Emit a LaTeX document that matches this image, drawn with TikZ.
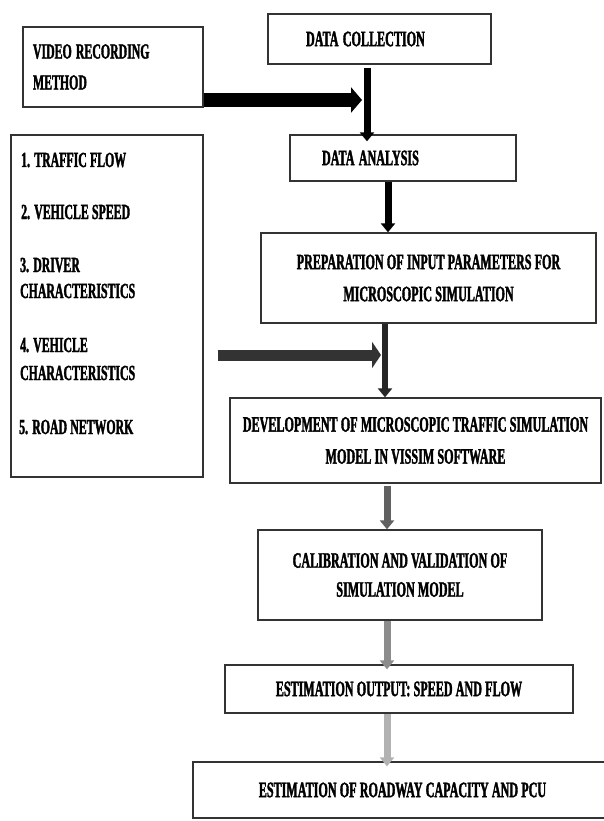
\documentclass[tikz,border=0pt]{standalone}
\usepackage{fontspec}
\setmainfont{Liberation Serif}[FakeStretch=0.55, BoldFeatures={FakeBold=1.6}]
\usetikzlibrary{arrows.meta}
\newcommand{\diagfont}[2]{\fontsize{#1}{#2}\selectfont\bfseries\spaceskip=3.2pt plus 1pt minus 1pt\relax}
\begin{document}
\begin{tikzpicture}[x=1pt,y=-1pt,
  box/.style={draw=black!80, line width=1.3pt, rectangle, inner sep=0pt,
    font=\diagfont{22}{32}, align=center},
  itemtxt/.style={anchor=base west, inner sep=0pt, font=\diagfont{21.5}{32}},
  fatarrow/.style={line width=14pt, black, -{Triangle[width=25pt,length=11pt]}},
  hatcharrow/.style={line width=11pt, black!80, -{Triangle[width=26pt,length=9pt]}},
  downarrow/.style={line width=7pt, -{Triangle[width=14pt,length=9pt]}}
]
\useasboundingbox (0,0) rectangle (603,821);
\fill[white] (0,0) rectangle (603,821);

% boxes
\node[box, minimum width=180pt, minimum height=80pt, text width=160pt, inner xsep=10pt, align=left,
      font=\diagfont{21.5}{31}] (vid) at (113,67) {VIDEO\kern-3pt{} RECORDING\\METHOD};
\node[box, minimum width=223pt, minimum height=50pt, text width=147pt, inner xsep=38pt, align=left] (dc) at (379.5,39) {DATA\kern-3pt{} COLLECTION};
\node[box, minimum width=226pt, minimum height=46pt, text width=162pt, inner xsep=32pt, align=left] (da) at (403,158) {DATA\kern-3pt{} ANALYSIS};
\node[box, minimum width=192pt, minimum height=342pt] (list) at (107,306) {};
\node[box, minimum width=335pt, minimum height=90pt] (prep) at (428.5,278) {PREPARATION OF INPUT PARAMETERS FOR\\MICROSCOPIC SIMULATION};
\node[box, minimum width=371pt, minimum height=85pt] (dev) at (415.5,440.5) {DEVELOPMENT OF MICROSCOPIC TRAFFIC SIMULATION\\MODEL IN VISSIM SOFTWARE};
\node[box, minimum width=284pt, minimum height=90pt, font=\diagfont{22}{29}] (cal) at (400,575) {CALIBRATION AND VALIDATION OF\\SIMULATION MODEL};
\node[box, minimum width=348pt, minimum height=48pt] (est) at (399,689) {ESTIMATION OUTPUT: SPEED AND FLOW};
\node[box, minimum width=419pt, minimum height=56pt] (fin) at (402.5,790) {ESTIMATION OF ROADWAY CAPACITY AND PCU};

% list items
\node[itemtxt] (i1) at (21,167) {1. TRAFFIC FLOW};
\node[itemtxt] (i2) at (21,219) {2. VEHICLE SPEED};
\node[itemtxt] (i3a) at (20,272) {3. DRIVER};
\node[itemtxt] (i3b) at (20,298) {CHARACTERISTICS};
\node[itemtxt] (i4a) at (20,352) {4. VEHICLE};
\node[itemtxt] (i4b) at (20,380) {CHARACTERISTICS};
\node[itemtxt] (i5) at (19,434) {5. ROAD NETWORK};

% coordinates for arrow tips and columns
\coordinate (tipA) at (362,100);
\coordinate (colA) at (367,0);
\coordinate (colB) at (388,0);
\coordinate (tipB) at (381,355);
\coordinate (colC) at (385,0);
\coordinate (colD) at (387,0);

% connectors
\draw[fatarrow] (vid.east |- tipA) -- (tipA);
\draw[downarrow, black] ([yshift=-3pt]dc.south -| colA) -- ([yshift=-7pt]da.north -| colA);
\draw[downarrow, black] (da.south -| colB) -- (prep.north -| colB);
\draw[hatcharrow, shorten <=14pt] (list.east |- tipB) -- (tipB);
\draw[downarrow, black!85, line width=6pt] (prep.south -| colC) -- (dev.north -| colC);
\draw[downarrow, black!62] ([yshift=-2pt]dev.south -| colD) -- (cal.north -| colD);
\draw[downarrow, black!45] (cal.south -| colD) -- ([yshift=-5pt]est.north -| colD);
\draw[downarrow, black!30] (est.south -| colD) -- ([yshift=-5pt]fin.north -| colD);
\end{tikzpicture}
\end{document}
